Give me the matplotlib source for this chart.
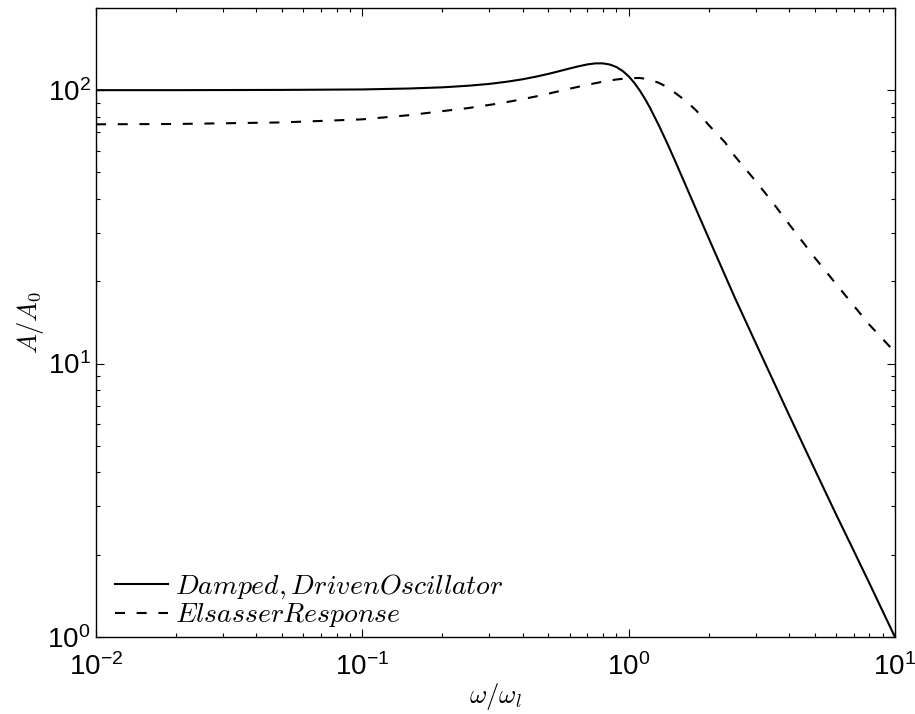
import matplotlib
matplotlib.use("Agg")
import matplotlib.pyplot as plt
from matplotlib import ticker

plt.rcParams['font.family'] = ['Liberation Sans', 'DejaVu Sans']
plt.rcParams['mathtext.fontset'] = 'cm'

# frequency ratio omega / omega_l
w_osc = [0.01, 0.02, 0.05, 0.1, 0.15, 0.2, 0.25, 0.3, 0.35, 0.4, 0.45, 0.5,
         0.55, 0.6, 0.65, 0.7, 0.75, 0.8, 0.85, 0.9, 0.95, 1.0, 1.05, 1.1,
         1.15, 1.2, 1.3, 1.4, 1.5, 1.6, 1.8, 2.0, 2.5, 3.0, 4.0, 5.0, 6.0,
         7.0, 8.0, 10.0]
amp_osc = [100.0, 100.0, 100.2, 100.6, 101.4, 102.4, 103.8, 105.4, 107.4,
           109.6, 112.1, 114.7, 117.4, 120.0, 122.3, 124.2, 125.3, 125.3,
           124.1, 121.5, 117.5, 112.4, 106.4, 99.9, 93.2, 86.6, 74.2, 63.6,
           54.7, 47.3, 36.3, 28.7, 17.5, 11.9, 6.5, 4.1, 2.82, 2.07, 1.58, 1.0]

w_els = [0.01, 0.02, 0.05, 0.1, 0.15, 0.2, 0.25, 0.3, 0.35, 0.4, 0.45, 0.5,
         0.55, 0.6, 0.7, 0.8, 0.9, 1.0, 1.1, 1.2, 1.3, 1.4, 1.5, 1.6, 1.7,
         1.8, 2.0, 2.3, 2.5, 3.0, 3.5, 4.0, 5.0, 6.0, 7.0, 8.0, 9.0, 10.0]
amp_els = [75.0, 75.2, 76.2, 78.2, 81.0, 83.8, 86.0, 88.3, 90.5, 92.7, 94.9,
           97.1, 99.2, 101.2, 104.6, 107.4, 109.4, 110.6, 110.8, 109.5, 106.3,
           102.5, 97.5, 93.0, 88.5, 84.0, 74.5, 64.5, 57.5, 46.5, 38.5, 32.4,
           24.4, 19.6, 16.3, 13.9, 12.3, 11.0]

fig = plt.figure(figsize=(9.15, 7.14), dpi=100)
ax = fig.add_axes([0.105, 0.108, 0.873, 0.881])

ax.loglog(w_osc, amp_osc, color='black', lw=1.5,
          label=r'$Damped, Driven Oscillator$')
ax.loglog(w_els, amp_els, color='black', lw=1.5, linestyle=(0, (4.8, 5.6)),
          label=r'$Elsasser Response$')

ax.set_xlim(1e-2, 1e1)
ax.set_ylim(1, 200)

ax.yaxis.set_minor_formatter(ticker.NullFormatter())
ax.xaxis.set_minor_formatter(ticker.NullFormatter())
ax.tick_params(which='both', direction='in', top=True, right=True,
               labelsize=20, width=0.8)
ax.tick_params(which='major', length=6)
ax.tick_params(which='minor', length=3)
ax.tick_params(axis='x', pad=12)
ax.tick_params(axis='y', pad=4)
for s in ax.spines.values():
    s.set_linewidth(1.0)

ax.set_xlabel(r'$\omega/\omega_l$', fontsize=19, labelpad=0)
ax.set_ylabel(r'$A/A_0$', fontsize=19, labelpad=1)

ax.legend(loc='lower left', bbox_to_anchor=(0.024, 0.012), frameon=False,
          fontsize=20, handlelength=1.9, handletextpad=0.25,
          labelspacing=0.0, borderaxespad=0, borderpad=0)

fig.savefig('out.png', dpi=100)
